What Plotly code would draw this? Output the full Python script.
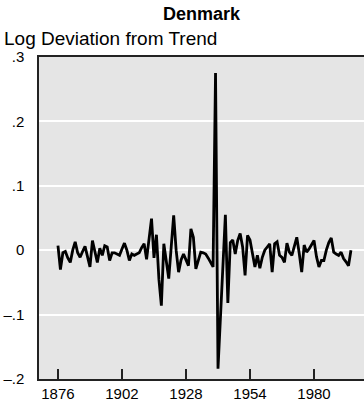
import plotly.graph_objects as go

years = list(range(1876, 1996))
values = [
    0.007, -0.030, -0.004, -0.002, -0.012, -0.019, 0.000, 0.013, -0.004, -0.011,
    -0.002, 0.006, -0.010, -0.026, 0.015, -0.002, -0.019, 0.003, -0.008, 0.007,
    0.005, -0.016, -0.004, -0.004, -0.006, -0.008, 0.002, 0.011, 0.000, -0.016,
    -0.006, -0.008, -0.006, -0.004, 0.004, 0.010, -0.014, 0.020, 0.049, -0.012,
    0.024, -0.045, -0.086, 0.010, -0.020, -0.044, 0.005, 0.054, 0.000, -0.034,
    -0.015, -0.006, -0.015, -0.024, 0.033, 0.020, -0.029, -0.015, -0.003, -0.004,
    -0.006, -0.012, -0.018, -0.026, 0.275, -0.184, -0.104, -0.025, 0.055, -0.082,
    0.012, 0.016, -0.006, 0.015, 0.026, 0.005, -0.039, 0.023, 0.016, -0.005,
    -0.026, -0.008, -0.028, -0.011, 0.000, 0.005, 0.010, -0.034, 0.010, 0.013,
    -0.008, -0.011, -0.019, 0.011, -0.003, -0.008, 0.005, 0.020, -0.005, -0.034,
    0.008, -0.003, 0.002, 0.008, 0.015, -0.010, -0.026, -0.016, -0.016, 0.000,
    0.012, 0.019, -0.003, -0.006, -0.008, -0.003, -0.013, -0.018, -0.024, 0.000,
]

x_ticks = [1876, 1902, 1928, 1954, 1980]
y_ticks = [-0.2, -0.1, 0, 0.1, 0.2, 0.3]
y_tick_text = ["\u2013.2", "\u2013.1", "0", ".1", ".2", ".3"]

FONT = "Liberation Sans, Arial, Helvetica, sans-serif"

fig = go.Figure()
fig.add_trace(go.Scatter(
    x=years, y=values, mode="lines",
    line=dict(color="black", width=2.8),
    showlegend=False, hoverinfo="skip",
))

fig.update_layout(
    width=364, height=406,
    margin=dict(l=39, r=0, t=57, b=27),
    paper_bgcolor="white",
    plot_bgcolor="#e5e5e5",
    font=dict(family=FONT, color="black", size=14),
    xaxis=dict(
        range=[1868.3, 2000.3],
        tickvals=x_ticks,
        ticktext=[str(v) for v in x_ticks],
        ticks="inside", ticklen=10, tickwidth=1.5, tickcolor="#222",
        showline=True, linecolor="#222", linewidth=1.5, mirror=True,
        showgrid=False, zeroline=False,
        tickfont=dict(size=15, family=FONT),
    ),
    yaxis=dict(
        range=[-0.2, 0.3],
        tickvals=y_ticks,
        ticktext=y_tick_text,
        ticks="", ticklabelstandoff=10,
        showline=True, linecolor="#222", linewidth=1.5,
        showgrid=True, gridcolor="white", gridwidth=2,
        zeroline=False,
        tickfont=dict(size=15, family=FONT),
    ),
    annotations=[
        dict(text="<b>Denmark</b>", xref="paper", yref="paper",
             x=0.5, y=1, yshift=43, xanchor="center", yanchor="middle",
             showarrow=False, font=dict(size=18, family=FONT)),
        dict(text="Log Deviation from Trend", xref="x domain", yref="paper",
             x=-37 / 325, y=1, yshift=19, xanchor="left", yanchor="middle",
             showarrow=False, font=dict(size=19, family=FONT)),
    ],
)

fig.write_html("out.html")
